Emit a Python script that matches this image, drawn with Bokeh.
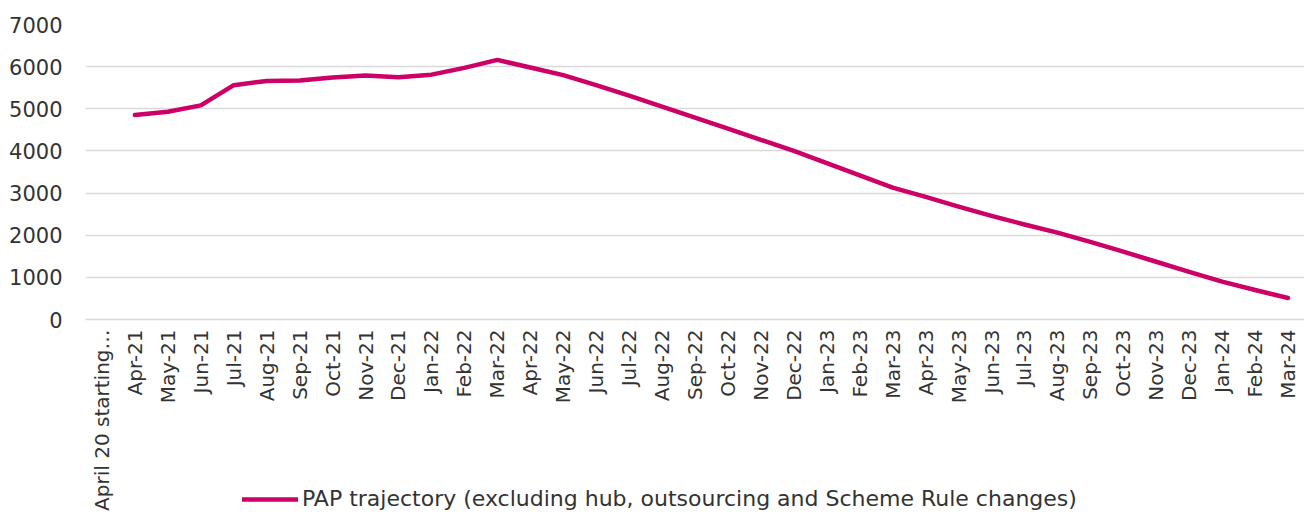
import math
from bokeh.plotting import figure
from bokeh.models import FactorRange, Range1d, Legend, LegendItem, ColumnDataSource
from bokeh.embed import file_html
from bokeh.resources import INLINE

categories = ["April 20 starting\u2026",
              "Apr-21", "May-21", "Jun-21", "Jul-21", "Aug-21", "Sep-21", "Oct-21", "Nov-21", "Dec-21",
              "Jan-22", "Feb-22", "Mar-22", "Apr-22", "May-22", "Jun-22", "Jul-22", "Aug-22", "Sep-22",
              "Oct-22", "Nov-22", "Dec-22", "Jan-23", "Feb-23", "Mar-23", "Apr-23", "May-23", "Jun-23",
              "Jul-23", "Aug-23", "Sep-23", "Oct-23", "Nov-23", "Dec-23", "Jan-24", "Feb-24", "Mar-24"]

series_name = "PAP trajectory (excluding hub, outsourcing and Scheme Rule changes)"
series_months = categories[1:]
series_values = [4850, 4930, 5080, 5560, 5660, 5670, 5740, 5790, 5750, 5810, 5970, 6160,
                 5980, 5800, 5560, 5310, 5050, 4790, 4530, 4265, 4000, 3710, 3420, 3130,
                 2910, 2680, 2460, 2255, 2060, 1840, 1610, 1370, 1130, 900, 700, 510]

y_ticks = [0, 1000, 2000, 3000, 4000, 5000, 6000, 7000]

FONT = "DejaVu Sans"
TXT = "#333333"
LINE = "#CC0066"

# layout: value axis 0..7000 occupies the top 295 px of the frame; the
# remaining 195 px below zero hold the category labels and the legend
W, H = 1306, 514
TOP, ZERO_PX = 24, 319
y_max = 7000
y_min = -y_max * (H - ZERO_PX) / (ZERO_PX - TOP)

p = figure(width=W, height=H, output_backend="svg", toolbar_location=None,
           x_range=FactorRange(*categories, range_padding=0),
           y_range=Range1d(y_min, y_max),
           min_border_left=85, min_border_right=2, min_border_top=TOP, min_border_bottom=0)
p.outline_line_color = None
p.background_fill_color = "white"
p.border_fill_color = "white"

src = ColumnDataSource(dict(x=series_months, y=series_values))
r = p.line("x", "y", source=src, line_color=LINE, line_width=4.5,
           line_join="round", line_cap="round")

p.yaxis.ticker = y_ticks
p.yaxis.axis_line_color = None
p.yaxis.major_tick_line_color = None
p.yaxis.minor_tick_line_color = None
p.yaxis.major_tick_out = 0
p.yaxis.major_tick_in = 0
p.yaxis.major_label_standoff = 23
p.yaxis.major_label_text_font = FONT
p.yaxis.major_label_text_font_size = "21px"
p.yaxis.major_label_text_color = TXT

p.xaxis.fixed_location = 0
p.xaxis.axis_line_color = None
p.xaxis.major_tick_line_color = None
p.xaxis.minor_tick_line_color = None
p.xaxis.major_tick_out = 0
p.xaxis.major_tick_in = 0
p.xaxis.major_label_standoff = 10
p.xaxis.major_label_orientation = math.pi / 2
p.xaxis.major_label_text_font = FONT
p.xaxis.major_label_text_font_size = "20px"
p.xaxis.major_label_text_color = TXT

p.xgrid.grid_line_color = None
p.ygrid.ticker = y_ticks
p.ygrid.grid_line_color = "#D9D9D9"
p.ygrid.grid_line_width = 1.5

legend = Legend(items=[LegendItem(label=series_name, renderers=[r])],
                location=(157, 3), orientation="horizontal",
                glyph_width=56, glyph_height=22, label_height=22, label_standoff=4,
                padding=0, margin=0, border_line_color=None, background_fill_alpha=0,
                label_text_font=FONT, label_text_font_size="22px", label_text_color=TXT)
p.add_layout(legend, "center")

open("out.html", "w").write(file_html(p, INLINE))
